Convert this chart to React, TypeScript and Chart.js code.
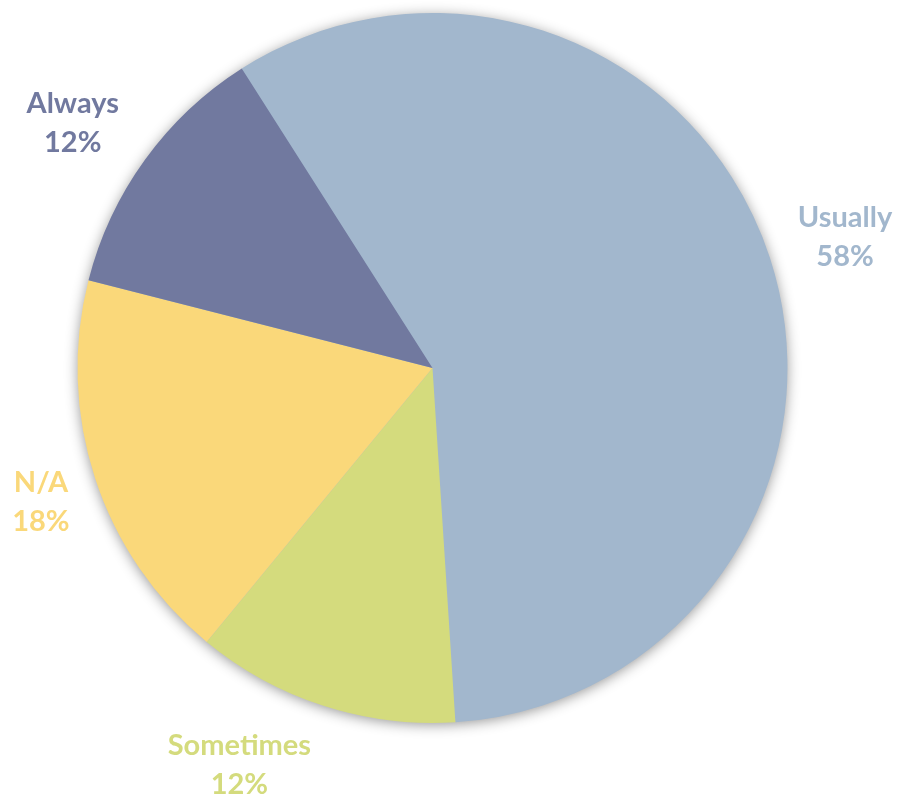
import React, { useEffect, useRef } from "react";
import { Chart, registerables } from "chart.js";

Chart.register(...registerables);

const categories = ["Usually", "Sometimes", "N/A", "Always"];
const values = [58, 12, 18, 12];
const colors = ["#A2B7CD", "#D4DB7D", "#FAD87A", "#71799F"];
const labelNudges = [
  [1, 4],
  [-60, -15],
  [20, 0],
  [-9, 9],
];

const shadowPlugin = {
  id: "pieShadow",
  beforeDatasetsDraw(chart: any) {
    const meta = chart.getDatasetMeta(0);
    const arc = meta.data[0];
    if (!arc) return;
    const { x, y, outerRadius } = arc.getProps(["x", "y", "outerRadius"], true);
    const ctx = chart.ctx;
    ctx.save();
    ctx.shadowColor = "rgba(0,0,0,0.45)";
    ctx.shadowBlur = 14;
    ctx.shadowOffsetX = 0;
    ctx.shadowOffsetY = 2;
    ctx.fillStyle = "#A2B7CD";
    ctx.beginPath();
    ctx.arc(x, y, outerRadius - 1, 0, Math.PI * 2);
    ctx.fill();
    ctx.restore();
  },
};

const labelPlugin = {
  id: "outsideLabels",
  afterDatasetsDraw(chart: any) {
    const meta = chart.getDatasetMeta(0);
    const ctx = chart.ctx;
    const total = values.reduce((a, b) => a + b, 0);
    ctx.save();
    ctx.font = "bold 29px Lato";
    ctx.textAlign = "center";
    ctx.textBaseline = "middle";
    meta.data.forEach((arc: any, i: number) => {
      const { x, y, startAngle, endAngle, outerRadius } = arc.getProps(
        ["x", "y", "startAngle", "endAngle", "outerRadius"],
        true
      );
      const mid = (startAngle + endAngle) / 2;
      const d = outerRadius + 78;
      const lx = x + Math.cos(mid) * d + labelNudges[i][0];
      const ly = y + Math.sin(mid) * d + labelNudges[i][1];
      ctx.fillStyle = colors[i];
      const pct = Math.round((values[i] / total) * 100) + "%";
      ctx.fillText(categories[i], lx, ly - 19.5);
      ctx.fillText(pct, lx, ly + 19.5);
    });
    ctx.restore();
  },
};

export default function App() {
  const ref = useRef<HTMLCanvasElement | null>(null);
  useEffect(() => {
    document.body.style.margin = "0";
    const chart = new Chart(ref.current as HTMLCanvasElement, {
      type: "pie",
      data: {
        labels: categories,
        datasets: [
          {
            data: values,
            backgroundColor: colors,
            borderWidth: 0,
          },
        ],
      },
      options: {
        animation: false,
        responsive: false,
        rotation: -32.5,
        layout: { padding: { left: 77.5, right: 112.5, top: 13, bottom: 75 } },
        plugins: {
          legend: { display: false },
          tooltip: { enabled: false },
        },
      },
      plugins: [shadowPlugin, labelPlugin],
    });
    return () => chart.destroy();
  }, []);
  return (
    <div style={{ width: 900, height: 798, background: "#fff" }}>
      <canvas ref={ref} width={900} height={798} />
    </div>
  );
}
